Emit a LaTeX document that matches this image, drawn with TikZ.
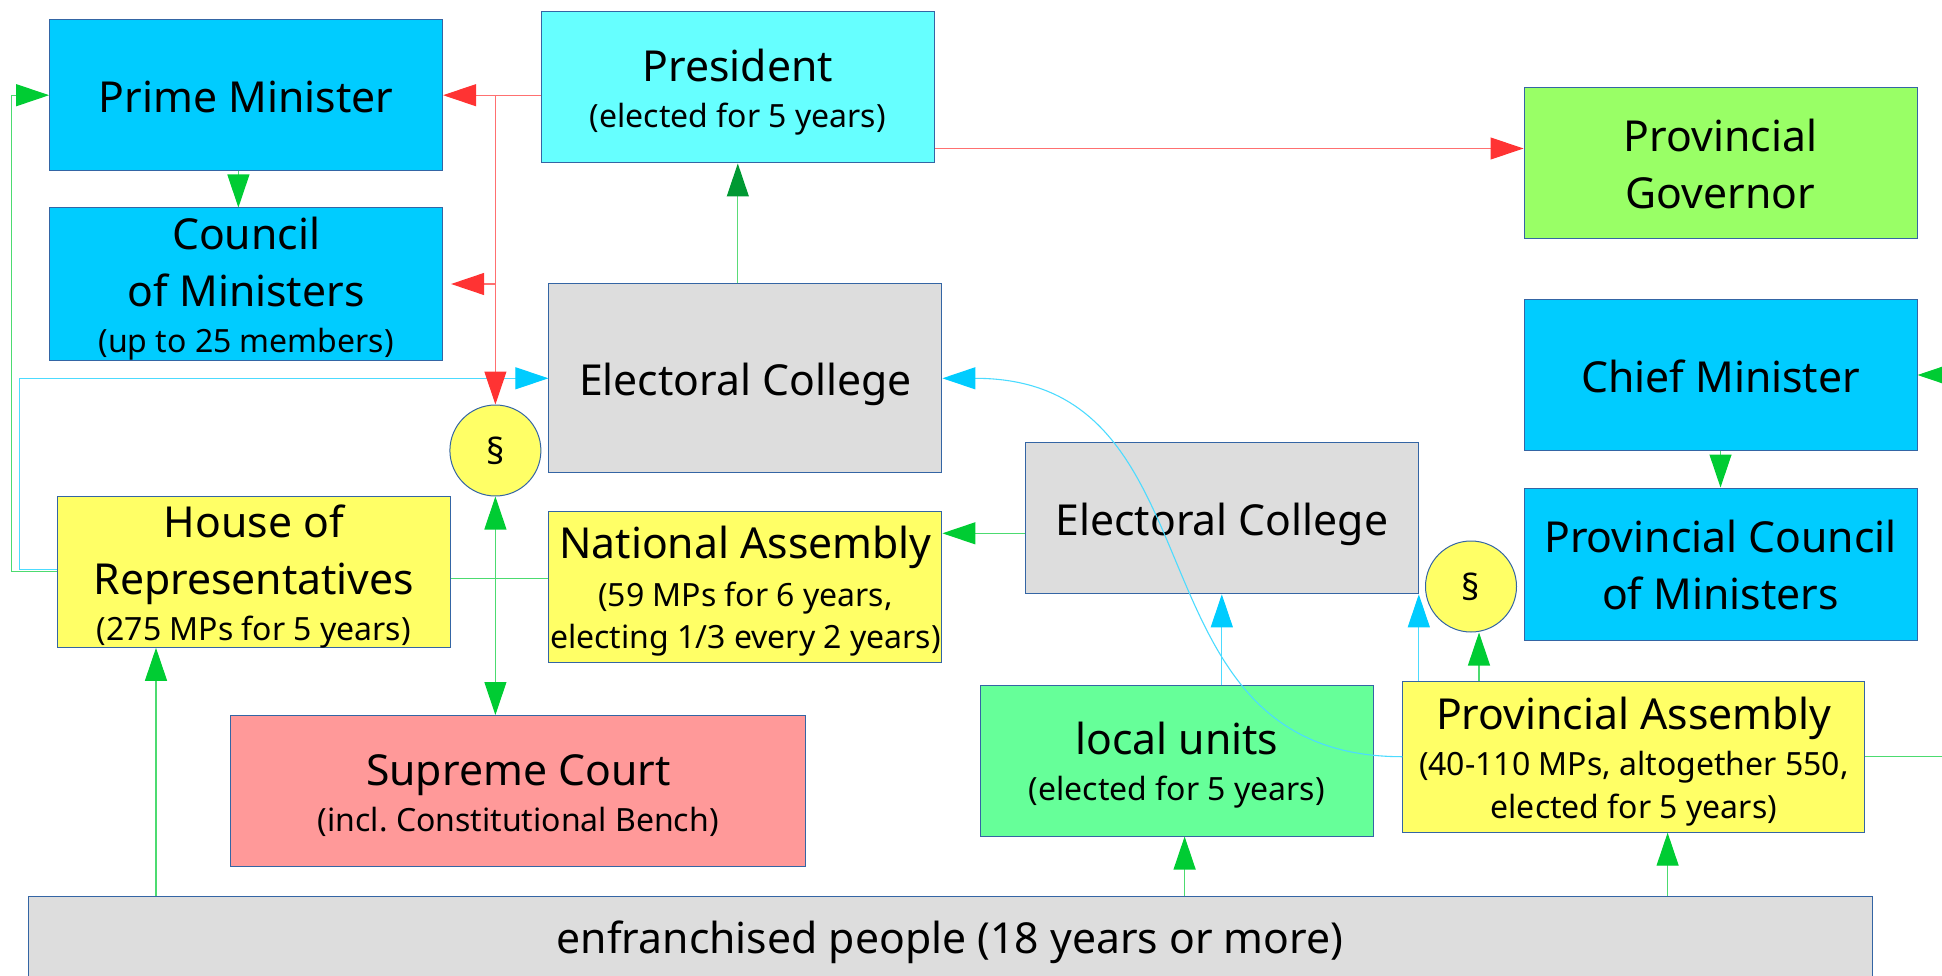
\documentclass[tikz,border=0pt]{standalone}
\usepackage{fontspec}
\setmainfont{Noto Sans}
\usetikzlibrary{arrows.meta}
\definecolor{boxline}{RGB}{52,101,164}
\definecolor{ministerblue}{RGB}{0,204,255}
\definecolor{presicyan}{RGB}{102,255,255}
\definecolor{govgreen}{RGB}{153,255,102}
\definecolor{collegegray}{RGB}{221,221,221}
\definecolor{assemblyyellow}{RGB}{255,255,102}
\definecolor{courtred}{RGB}{255,153,153}
\definecolor{localgreen}{RGB}{102,255,153}
\definecolor{arrred}{RGB}{255,51,51}
\definecolor{arrgreen}{RGB}{0,204,51}
\definecolor{arrdkgreen}{RGB}{0,153,51}
\definecolor{arrcyan}{RGB}{0,204,255}
\definecolor{wiregreen}{RGB}{90,220,120}
\newcommand\ttlfont{\fontsize{42.7}{46}\selectfont}
\newcommand\subfont{\fontsize{32}{46}\selectfont}
\newcommand\tps{\rule{0pt}{45pt}}
\newcommand\bts{\rule[-11pt]{0pt}{0pt}}
\frenchspacing

\begin{document}
\begin{tikzpicture}[x=1pt, y=-1pt,
  box/.style={draw=boxline, line width=1pt, align=center, inner sep=0pt, font=\ttlfont,
    minimum width=393pt, minimum height=151pt},
  para/.style={circle, draw=boxline, line width=1pt, fill=assemblyyellow, minimum size=91pt,
    inner sep=0pt, font=\fontsize{36}{40}\selectfont},
  wire/.style={line width=1.1pt, draw=#1!70},
  arr/.style={wire=#1, -{Triangle[length=33pt,width=22pt,color=#1]}},
  dbl/.style={wire=#1, {Triangle[length=33pt,width=22pt,color=#1]}-{Triangle[length=33pt,width=22pt,color=#1]}},
  arrdk/.style={line width=1.1pt, draw=wiregreen, -{Triangle[length=33pt,width=22pt,color=arrdkgreen]}}]
  %tikz  Pakistan, government
    \useasboundingbox (0,0) rectangle (1942,976);
    \node[box, fill=ministerblue] (pm) at (246.1,95.2) {\tps Prime Minister\bts};
    \node[box, fill=ministerblue, minimum height=152pt, inner ysep=-4pt] (com) at (246.1,284) {\tps Council\\[11pt]of Ministers\\{\subfont (up to 25 members)\bts}};
    \node[box, fill=presicyan] (pres) at (737.8,87.5) {\tps President\\{\subfont (elected for 5 years)\bts}};
    \node[box, fill=collegegray, minimum height=189pt] (ec1) at (745.4,378.3) {\tps Electoral College\bts};
    \node[box, fill=govgreen] (pg) at (1720.5,163.3) {\tps Provincial\\[11pt]Governor\bts};
    \node[box, fill=ministerblue] (cm) at (1720.5,375) {\tps Chief Minister\bts};
    \node[box, fill=ministerblue, minimum height=152pt] (pcom) at (1720.5,564) {\tps Provincial Council\\[11pt]of Ministers\bts};
    \node[box, fill=collegegray] (ec2) at (1221.8,518.3) {\tps Electoral College\bts};
    \node[box, fill=assemblyyellow, inner ysep=-4pt] (hor) at (253.8,571.8) {\tps House of\\[11pt]Representatives\\{\subfont (275 MPs for 5 years)\bts}};
    \node[box, fill=assemblyyellow] (na) at (745.4,586.7) {\tps National Assembly\\[2pt]{\subfont (59 MPs for 6 years,}\\[-4pt]{\subfont electing 1/3 every 2 years)\bts}};
    \node[box, fill=courtred, minimum width=575pt] (sc) at (518.3,791) {\tps Supreme Court\\{\subfont (incl. Constitutional Bench)\bts}};
    \node[box, fill=localgreen] (lu) at (1176.8,760.5) {\tps local units\\{\subfont (elected for 5 years)\bts}};
    \node[box, fill=assemblyyellow, minimum width=462pt] (pa) at (1633.8,756.7) {\tps Provincial Assembly\\{\subfont (40-110 MPs, altogether 550,}\\[-3pt]{\subfont elected for 5 years)\bts}};
    \node[box, fill=collegegray, minimum width=1844pt, minimum height=150pt, text height=30pt, text depth=66pt] (people) at (950,971.3) {enfranchised people (18 years or more)};
    \node[para] (s1) at (495.4,450.5) {§};
    \node[para] (s2) at (1471,586.5) {§};
    % left side
    \coordinate (hl) at ([yshift=2pt]hor.west);
    \draw[arr=arrcyan] (hl) -- ++(-37.2,0) |- (ec1.west);
    \draw[arr=arrgreen] (hor.west) -- ++(-45.2,0) |- (pm.west);
    % president
    \draw[arr=arrred] (pres.west |- pm.east) -- (pm.east);
    \draw[arr=arrred] (s1.north |- pm.east) -- (s1.north);
    \draw[arr=arrred, shorten >=8pt] (s1.north |- com.east) -- (com.east);
    \coordinate (pr) at ([yshift=15pt]pres.south east);
    \draw[arr=arrred] (pr) -- (pr -| pg.west);
    \coordinate (pc) at ([xshift=-7.7pt]pm.south);
    \draw[arr=arrgreen] (pc) -- (pc |- com.north);
    \draw[arrdk] (pres.south |- ec1.north) -- (pres.south);
    % parliament
    \draw[dbl=arrgreen] (s1.south) -- (s1.south |- sc.north);
    \coordinate (hn) at ([yshift=-7pt]hor.east);
    \draw[wire=arrgreen] (hn) -- (hn -| na.west);
    \coordinate (e2) at ([yshift=-15pt]ec2.west);
    \draw[arr=arrgreen] (e2) -- (e2 -| na.east);
    \draw[arr=arrcyan] (pa.west) .. controls (1120,756.7) and (1230,378.3) .. (ec1.east);
    \draw[arr=arrcyan] (ec2.south |- lu.north) -- (ec2.south);
    \draw[arr=arrcyan] (ec2.south east |- pa.north) -- (ec2.south east);
    \path ([xshift=8pt]s2.south) coordinate (s2b);
    \draw[arr=arrgreen] (s2b |- pa.north) -- (s2b);
    \draw[arr=arrgreen] (cm.south) -- (pcom.north);
    % people
    \path (hor.south) ++(-97.8,0) coordinate (hb);
    \draw[arr=arrgreen] (hb |- people.north) -- (hb);
    \path (lu.south) ++(7.8,0) coordinate (lb);
    \draw[arr=arrgreen] (lb |- people.north) -- (lb);
    \path (pa.south) ++(33.8,0) coordinate (pb);
    \draw[arr=arrgreen] (pb |- people.north) -- (pb);
    % right edge
    \coordinate (rcm) at (1942,375);
    \draw[arr=arrgreen] (rcm) -- (cm.east);
    \coordinate (rpa) at (1942,756.7);
    \draw[wire=arrgreen] (pa.east) -- (rpa);
  \end{tikzpicture}
\end{document}
